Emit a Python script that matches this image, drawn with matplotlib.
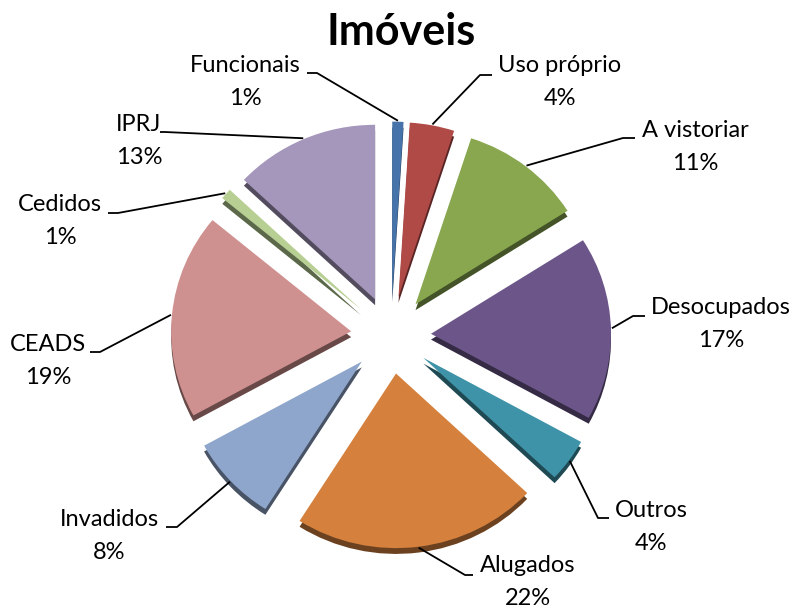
import matplotlib.pyplot as plt
import numpy as np

plt.rcParams['font.family'] = ['Lato', 'DejaVu Sans']

W, H = 795, 607
S = 0.97  # vertical squash of the tilted pie

labels = ["Funcionais", "Uso próprio", "A vistoriar", "Desocupados", "Outros",
          "Alugados", "Invadidos", "CEADS", "Cedidos", "IPRJ"]
values = [1, 4, 11, 17, 4, 22, 8, 19, 1, 13]
pct_text = ["1%", "4%", "11%", "17%", "4%", "22%", "8%", "19%", "1%", "13%"]

colors = ["#4674AA", "#B04A47", "#88A74F", "#6C5689", "#3E93A8",
          "#D5813D", "#8FA6CC", "#CF9190", "#B8CF93", "#A597BB"]

# label layout in image pixels (y measured from top)
text_xy = [(245, 82), (560, 82), (695, 147), (721, 324), (651, 527),
           (528, 582), (109, 536), (48, 361), (60, 221), (139, 141)]
elbow_xy = [(317, 73), (480, 75), (623, 138), (633, 316), (598, 518),
            (465, 575), (177, 527), (100, 352), (118, 213), (165, 132)]
tail = [-10, 12, 12, 12, 11, 8, -11, -10, -10, -5]

cx, cy = 391, 335
R = 180
expl = 40


def Y(y):
    return (H - y) / S


def darker(c, f=0.5):
    c = c.lstrip('#')
    rgb = [int(c[i:i + 2], 16) / 255 for i in (0, 2, 4)]
    return tuple(v * f for v in rgb)


fig = plt.figure(figsize=(7.95, 6.07), dpi=100)
ax = fig.add_axes([0, 0, 1, 1])

# thickness (shadow copy shifted down)
ax.pie(values, colors=[darker(c) for c in colors], startangle=90, counterclock=False,
       explode=[expl] * len(values), radius=R, center=(cx, Y(cy) - 6),
       wedgeprops=dict(linewidth=0), frame=True)
wedges, _ = ax.pie(values, colors=colors, startangle=90, counterclock=False,
                   explode=[expl] * len(values), radius=R, center=(cx, Y(cy)),
                   wedgeprops=dict(linewidth=0), frame=True)
ax.set_xlim(0, W)
ax.set_ylim(0, H / S)
ax.set_aspect('auto')
ax.axis('off')

for w, lab, pc, (tx, ty), (ex, ey), t in zip(wedges, labels, pct_text, text_xy, elbow_xy, tail):
    a = np.deg2rad((w.theta1 + w.theta2) / 2)
    x0 = w.center[0] + (w.r + 1) * np.cos(a)
    y0 = w.center[1] + (w.r + 1) * np.sin(a)
    ax.plot([x0, ex, ex + t], [y0, Y(ey), Y(ey)], color='black', lw=1.3,
            solid_capstyle='butt')
    ax.text(tx, Y(ty), lab + "\n" + pc, ha='center', va='center',
            fontsize=17, linespacing=1.68, color='black')

ax.text(401, Y(32), "Imóveis", ha='center', va='center', fontsize=31,
        fontweight='bold', color='black')

fig.savefig("out.png", dpi=100)
